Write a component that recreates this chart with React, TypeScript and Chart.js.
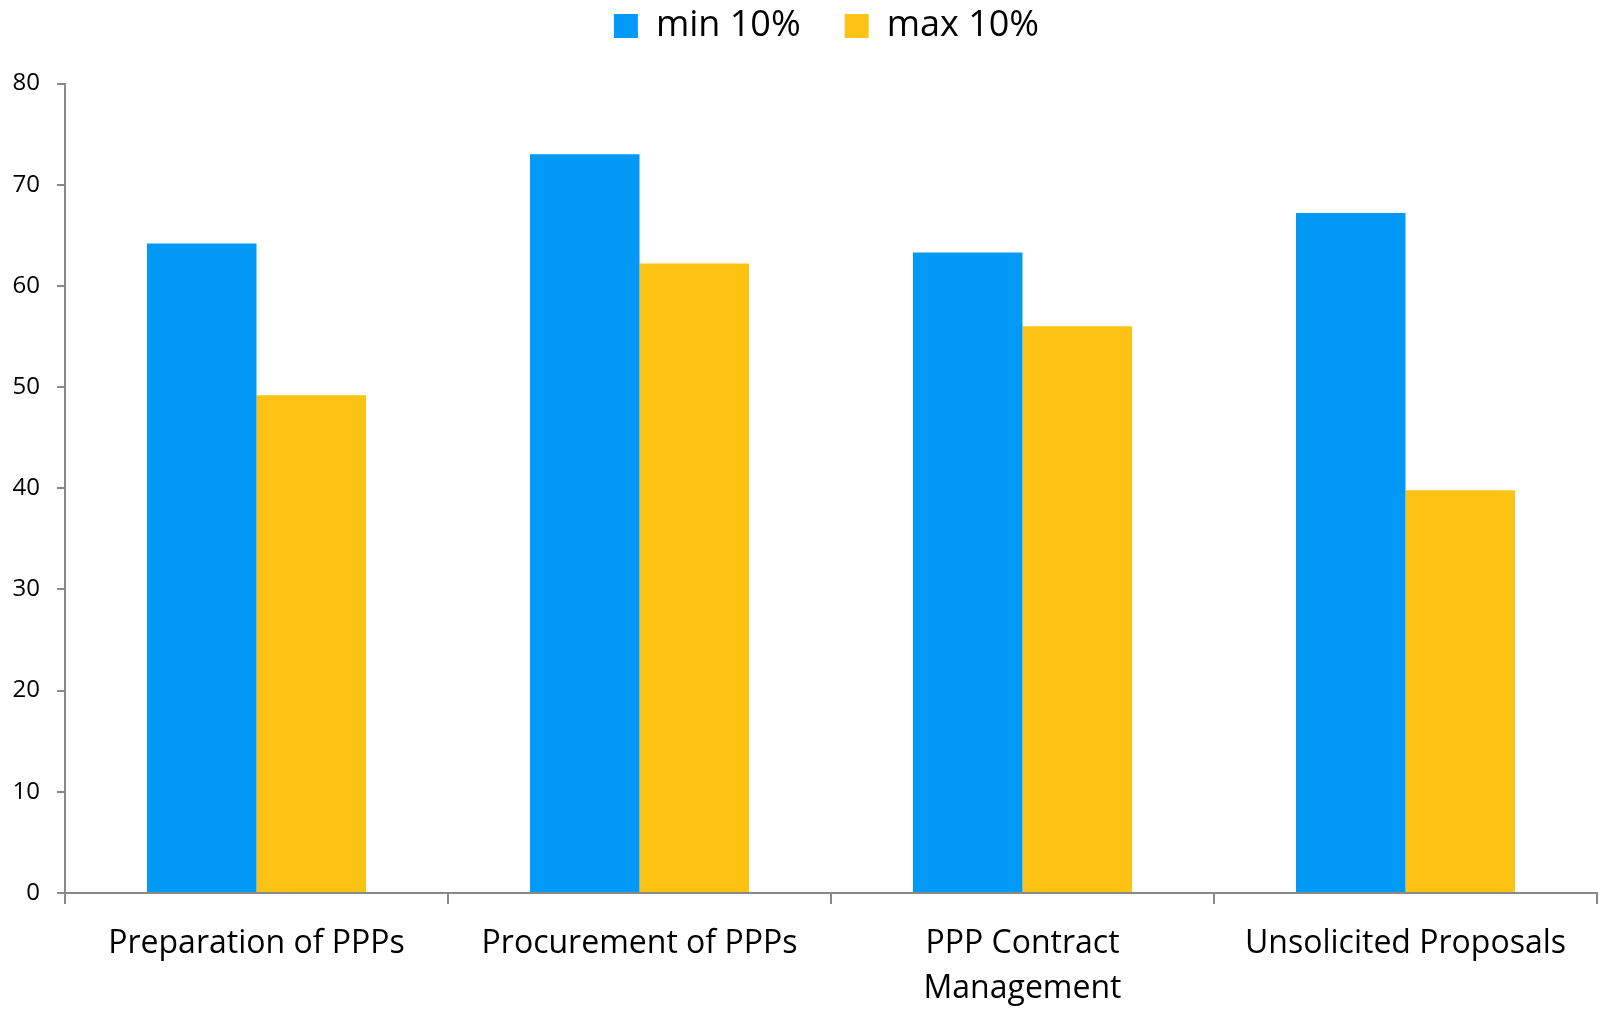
import React, { useEffect, useRef } from "react";
import { Chart, registerables } from "chart.js";

Chart.register(...registerables);

const categories: (string | string[])[] = [
  "Preparation of PPPs",
  "Procurement of PPPs",
  ["PPP Contract", "Management"],
  "Unsolicited Proposals",
];
const minValues = [64.2, 73.0, 63.3, 67.2];
const maxValues = [49.2, 62.2, 56.0, 39.8];
const seriesNames = ["min 10%", "max 10%"];
const yTicks = { min: 0, max: 80, step: 10 };

const PAD_TOP = -36;
const PLOT_TOP = 83.5;
const LEGEND_SHIFT = 56;

const legendHeightPlugin = {
  id: "legendHeight",
  beforeInit(chart: any) {
    const legend = chart.legend;
    if (!legend) return;
    const origFit = legend.fit;
    legend.fit = function () {
      origFit.call(this);
      this.height = PLOT_TOP - PAD_TOP;
    };
  },
  afterLayout(chart: any) {
    if (chart.legend) {
      chart.legend.left += LEGEND_SHIFT;
    }
  },
};

export default function App() {
  const ref = useRef<HTMLCanvasElement>(null);
  useEffect(() => {
    if (!ref.current) return;
    const font = "'Open Sans', sans-serif";
    const chart = new Chart(ref.current, {
      type: "bar",
      plugins: [legendHeightPlugin],
      data: {
        labels: categories,
        datasets: [
          {
            label: seriesNames[0],
            data: minValues,
            backgroundColor: "#0399F7",
            categoryPercentage: 0.572,
            barPercentage: 1.0,
          },
          {
            label: seriesNames[1],
            data: maxValues,
            backgroundColor: "#FCC315",
            categoryPercentage: 0.572,
            barPercentage: 1.0,
          },
        ],
      },
      options: {
        animation: false,
        responsive: false,
        maintainAspectRatio: false,
        layout: { padding: { left: 0, right: 5, top: PAD_TOP, bottom: 0 } },
        plugins: {
          legend: {
            position: "top",
            labels: {
              boxWidth: 24,
              boxHeight: 24,
              padding: 44,
              color: "#000",
              font: { family: font, size: 36 },
            },
          },
          tooltip: { enabled: false },
        },
        scales: {
          x: {
            afterFit(scale: any) {
              scale.height = 1009 - 893;
            },
            grid: {
              offset: true,
              drawOnChartArea: false,
              drawTicks: true,
              tickLength: 11,
              color: "#898989",
              lineWidth: 2,
            },
            border: { color: "#898989", width: 2 },
            ticks: {
              color: "#000",
              font: { family: font, size: 32, lineHeight: 1.42 },
              maxRotation: 0,
              autoSkip: false,
              padding: 17,
            },
          },
          y: {
            min: yTicks.min,
            max: yTicks.max,
            afterFit(scale: any) {
              scale.width = 65;
            },
            grid: {
              drawOnChartArea: false,
              drawTicks: true,
              tickLength: 8,
              color: "#898989",
              lineWidth: 2,
            },
            border: { color: "#898989", width: 2 },
            ticks: {
              stepSize: yTicks.step,
              color: "#000",
              font: { family: font, size: 24 },
              padding: 17,
            },
          },
        },
      },
    });
    return () => chart.destroy();
  }, []);
  return (
    <div style={{ position: "fixed", left: 0, top: 0, width: 1602, height: 1009, background: "#fff" }}>
      <canvas ref={ref} width={1602} height={1009} style={{ width: 1602, height: 1009 }} />
    </div>
  );
}
